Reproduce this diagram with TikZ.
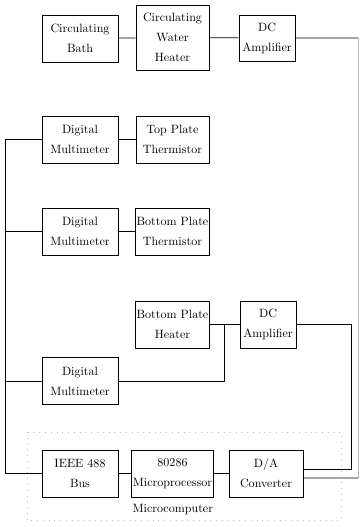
\documentclass[tikz,border=0pt]{standalone}
\usepackage{tikz}
\usetikzlibrary{arrows,shapes}

\begin{document}
\begin{tikzpicture}[scale=1,
  blk/.style={draw,line width=.6pt,align=center,inner sep=1pt,
    minimum width=2.13cm,minimum height=1.32cm,
    font=\fontsize{9.6}{16}\selectfont},
  wire/.style={line width=.6pt}]
\useasboundingbox (0,0) rectangle (10.052,-14.756);

\node at (2.24,-1.078) [blk] (bath) {Circulating\\Bath};
\node at (4.83,-1.05) [blk,minimum width=2.04cm,minimum height=1.82cm] (wheat) {Circulating\\Water\\Heater};
\node at (7.476,-1.064) [blk,minimum width=1.57cm,minimum height=1.29cm] (ampa) {DC\\Amplifier};

\node at (2.24,-3.906) [blk] (dmma) {Digital\\Multimeter};
\node at (4.83,-3.906) [blk,minimum width=2.04cm] (tpt) {Top Plate\\Thermistor};
\node at (2.24,-6.482) [blk] (dmmb) {Digital\\Multimeter};
\node at (4.83,-6.482) [blk,minimum width=2.04cm] (bpt) {Bottom Plate\\Thermistor};

\node at (4.83,-9.086) [blk,minimum width=2.04cm] (bph) {Bottom Plate\\Heater};
\node at (7.504,-9.086) [blk,minimum width=1.57cm] (ampb) {DC\\Amplifier};
\node at (2.24,-10.668) [blk] (dmmc) {Digital\\Multimeter};

\node at (2.24,-13.258) [blk] (ieee) {IEEE 488\\Bus};
\node at (4.83,-13.258) [blk,minimum width=2.27cm] (cpu) {80286\\Microprocessor};
\node at (7.448,-13.258) [blk,minimum width=2.07cm] (dac) {D/A\\Converter};
\node at (4.84,-14.28) [font=\fontsize{9.6}{16}\selectfont] (mc) {Microcomputer};

\coordinate (busa) at (0.14,-3.906);
\coordinate (busb) at (0.14,-13.258);
\coordinate (ja) at (6.272,-9.086);
\coordinate (ra) at (10.024,-1.064);
\coordinate (rb) at (10.024,-13.384);
\coordinate (rc) at (9.828,-9.086);

\draw[wire] (bath) -- (wheat) -- (ampa) -- (ra);
\draw[wire,gray!55] (ra) -- (rb);
\draw[wire] (rb) -- ([yshift=-.126cm]dac.east);
\draw[wire] (dmma) -- (tpt);
\draw[wire] (dmmb) -- (bpt);
\draw[wire] (bph) -- (ampb);
\draw[wire] (dmmc) -| (ja);
\draw[wire] (ampb) -- (rc) |- ([yshift=.126cm]dac.east);
\draw[wire] (busa) -- (busb);
\draw[wire] (dmma) -- (busa);
\draw[wire] (dmmb) -- (dmmb-|busa);
\draw[wire] (dmmc) -- (dmmc-|busa);
\draw[wire] (ieee) -- (busb);
\draw[wire] (ieee) -- (cpu) -- (dac);

% microcomputer boundary
\draw[gray!50,loosely dotted,line width=.6pt] (0.756,-12.096) rectangle (9.548,-14.56);
\end{tikzpicture}
\end{document}
